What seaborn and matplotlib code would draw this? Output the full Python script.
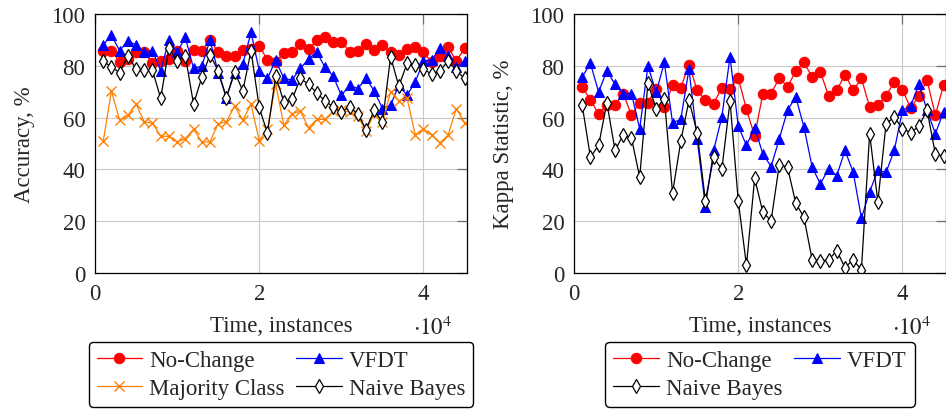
import numpy as np
import pandas as pd
import matplotlib.pyplot as plt
import seaborn as sns

# time axis: one evaluation every 1000 instances
steps = list(range(1000, 46000, 1000))

# left panel: accuracy, %
nc_acc = [85.8, 85.8, 81.6, 82.6, 85.2, 85.2, 81.0, 81.9, 82.6, 85.8, 81.9, 86.2, 85.8, 90.0, 85.2,
          83.9, 83.9, 86.2, 86.5, 87.8, 82.2, 81.5, 85.0, 85.4, 88.4, 86.3, 89.9, 91.2, 89.3, 89.3,
          85.4, 85.8, 88.4, 86.1, 88.0, 85.2, 84.1, 86.3, 87.4, 85.2, 81.3, 83.9, 87.1, 81.9, 86.7]
vfdt_acc = [88.0, 91.9, 85.8, 89.7, 88.0, 85.2, 85.8, 78.1, 90.0, 85.2, 91.0, 79.0, 79.8, 90.0, 77.4,
            67.7, 77.4, 80.7, 92.9, 78.1, 75.1, 82.2, 75.1, 74.5, 79.0, 82.6, 85.4, 79.4, 76.0, 68.6,
            72.5, 71.2, 75.1, 70.3, 63.5, 64.8, 72.5, 68.6, 73.8, 81.9, 82.2, 86.7, 83.9, 79.4, 81.9]
maj_acc = [50.8, 70.3, 59.0, 60.9, 65.2, 58.3, 57.9, 52.8, 52.8, 50.6, 51.9, 55.5, 50.6, 50.6, 57.7,
           58.3, 64.5, 59.0, 65.2, 51.0, 55.5, 72.9, 57.0, 61.5, 62.5, 56.1, 59.3, 59.3, 62.5, 62.8,
           62.2, 60.5, 55.0, 61.5, 58.3, 70.0, 66.5, 67.5, 53.3, 55.5, 53.2, 50.3, 53.2, 63.5, 58.0]
nb_acc = [81.9, 79.4, 77.4, 83.9, 78.7, 78.3, 78.3, 67.4, 86.7, 81.9, 83.9, 65.2, 75.5, 84.3, 78.1,
          67.7, 77.7, 70.3, 85.8, 63.9, 54.0, 76.0, 66.1, 67.0, 75.1, 72.9, 69.5, 66.5, 64.1, 62.2,
          64.1, 61.5, 55.4, 62.8, 58.3, 83.5, 72.1, 80.9, 80.3, 78.7, 76.8, 78.1, 81.9, 78.1, 75.1]

# right panel: kappa statistic, %
nc_kappa = [71.9, 66.7, 61.5, 64.8, 65.0, 69.3, 60.9, 65.8, 65.8, 71.2, 64.1, 72.5, 71.5, 80.5, 70.6,
            66.7, 65.4, 71.5, 71.0, 75.3, 63.2, 52.9, 69.3, 69.3, 75.3, 71.9, 77.9, 81.3, 75.7, 77.7,
            68.4, 70.6, 76.6, 70.6, 75.1, 64.1, 64.8, 68.4, 73.8, 70.6, 63.7, 68.4, 74.4, 60.9, 72.5]
vfdt_kappa = [75.7, 80.9, 69.9, 78.1, 72.8, 69.3, 69.3, 55.7, 80.0, 69.7, 81.3, 58.0, 59.3, 78.7, 51.6,
              25.6, 47.3, 60.2, 83.5, 56.7, 49.3, 56.0, 46.0, 41.1, 51.8, 62.8, 68.0, 56.4, 40.9, 34.4,
              40.2, 37.6, 47.3, 38.9, 21.2, 31.4, 39.6, 38.9, 47.3, 62.8, 64.5, 72.8, 62.8, 53.8, 62.2]
nb_kappa = [64.8, 44.7, 49.3, 65.8, 47.3, 53.4, 52.1, 37.0, 73.2, 63.5, 67.3, 30.9, 50.8, 66.7, 54.2,
            27.9, 44.7, 40.0, 66.3, 27.9, 3.0, 36.6, 23.4, 20.2, 41.8, 40.9, 27.0, 21.5, 5.1, 4.7,
            5.1, 8.6, 2.1, 5.1, 1.2, 53.8, 27.5, 57.6, 60.2, 55.7, 54.2, 56.7, 62.8, 46.0, 45.1]

xticks = [0, 20000, 40000]
xtick_labels = ['0', '2', '4']
yticks = [0, 20, 40, 60, 80, 100]

sns.set_style('white')
plt.rcParams['font.family'] = ['Liberation Serif', 'DejaVu Serif']
plt.rcParams['mathtext.fontset'] = 'stix'
plt.rcParams['font.size'] = 16.5

styles = {
    'No-Change': dict(color='#ff0000', marker='o', markersize=7.5, markeredgecolor='#ff0000'),
    'VFDT': dict(color='#0000ff', marker='^', markersize=7.5, markeredgecolor='#0000ff'),
    'Majority Class': dict(color='#ff8000', marker='x', markersize=6.5, markeredgewidth=1.0,
                           markeredgecolor='#ff8000'),
    'Naive Bayes': dict(color='black', marker='d', markersize=7.5, markerfacecolor='white',
                        markeredgecolor='black', markeredgewidth=0.9),
}

fig = plt.figure(figsize=(9.46, 4.14), dpi=100)
ax1 = fig.add_axes([95 / 946, 140 / 414, 372 / 946, 259 / 414])
ax2 = fig.add_axes([574 / 946, 140 / 414, 372 / 946, 259 / 414])


def draw(ax, series, ylabel, order):
    for name, vals in series:
        sns.lineplot(x=steps, y=vals, ax=ax, label=name, linewidth=0.9, **styles[name])
    ax.set_xlim(0, 45300)
    ax.set_ylim(0, 100)
    ax.set_xticks(xticks)
    ax.set_xticklabels(xtick_labels)
    ax.set_yticks(yticks)
    ax.grid(True, color='#c8c8c8', linewidth=0.8)
    ax.tick_params(direction='in', length=7, width=0.9, color='#707070',
                   top=True, right=True, pad=7, labelsize=16.5)
    for s in ax.spines.values():
        s.set_color('black')
        s.set_linewidth(0.9)
    ax.set_xlabel('Time, instances', fontsize=16.5, labelpad=8)
    ax.set_ylabel(ylabel, fontsize=16.5, labelpad=12)
    ax.text(0.96, -0.21, r'$\cdot10^{4}$', transform=ax.transAxes, ha='right', va='center', fontsize=16.5)
    h, l = ax.get_legend_handles_labels()
    # legend fills column by column; reorder so it reads row by row
    h = [h[i] for i in order]
    l = [l[i] for i in order]
    ax.legend(h, l, loc='upper center', bbox_to_anchor=(0.5, -0.265), ncol=2, frameon=True,
              fancybox=True, edgecolor='black', framealpha=1, fontsize=16.5, handlelength=2,
              columnspacing=0.5, handletextpad=0.3, labelspacing=0.3, borderpad=0.35,
              borderaxespad=0)


draw(ax1, [('No-Change', nc_acc), ('VFDT', vfdt_acc), ('Majority Class', maj_acc),
           ('Naive Bayes', nb_acc)], 'Accuracy, %', [0, 2, 1, 3])
draw(ax2, [('No-Change', nc_kappa), ('VFDT', vfdt_kappa), ('Naive Bayes', nb_kappa)],
     'Kappa Statistic, %', [0, 2, 1])

fig.savefig('out.png', dpi=100)
